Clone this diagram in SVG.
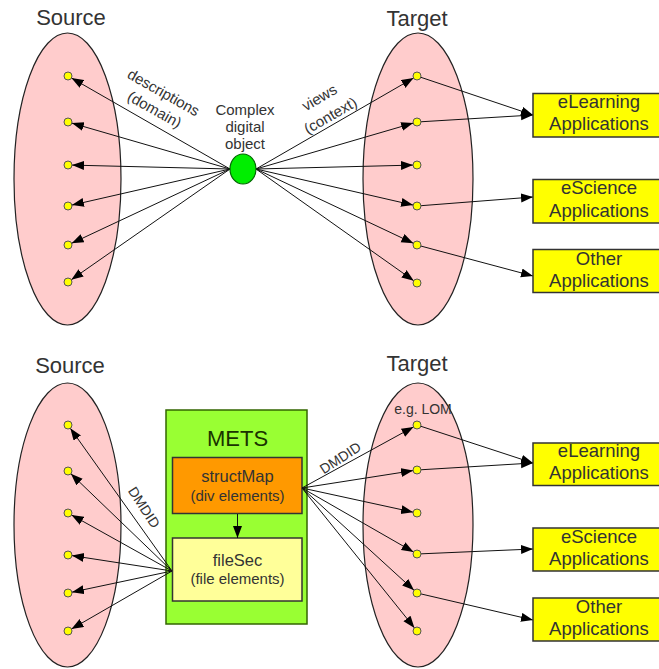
<svg xmlns="http://www.w3.org/2000/svg" width="659" height="669" viewBox="0 0 659 669">
<defs>
<style>
text{font-family:"Liberation Sans",Arial,sans-serif;fill:#333;text-anchor:middle;stroke:none}
.set{fill:#ffcccc;stroke:#222;stroke-width:1.2}
.dot{fill:#ffff00;stroke:#555;stroke-width:1}
.app rect{fill:#ffff00;stroke:#333;stroke-width:1.5}
.title{font-size:22px}
.lbl{font-size:15px}
.app text{font-size:18.5px}
#connectors line{stroke:#111;stroke-width:1}
.ad{marker-end:url(#ahDot)}
.ab{marker-end:url(#ahBox)}
</style>
<marker id="ahDot" markerUnits="userSpaceOnUse" markerWidth="20" markerHeight="10" refX="16" refY="4.5" orient="auto"><path d="M0,0 L12,4.5 L0,9 z" fill="#000"/></marker>
<marker id="ahBox" markerUnits="userSpaceOnUse" markerWidth="14" markerHeight="10" refX="12" refY="4.5" orient="auto"><path d="M0,0 L12,4.5 L0,9 z" fill="#000"/></marker>
</defs>
<rect width="659" height="669" fill="#fff"/>

<!-- titles -->
<text class="title" x="71" y="25">Source</text>
<text class="title" x="417" y="26">Target</text>
<text class="title" x="70" y="373">Source</text>
<text class="title" x="417" y="371">Target</text>

<!-- sets (ellipses) -->
<g id="source-top"><ellipse class="set" cx="67.5" cy="179" rx="53.5" ry="146"/></g>
<g id="target-top"><ellipse class="set" cx="418" cy="179" rx="55" ry="146"/></g>
<g id="source-bottom"><ellipse class="set" cx="67.5" cy="525" rx="53.5" ry="142"/></g>
<g id="target-bottom"><ellipse class="set" cx="418" cy="525" rx="55" ry="142"/>
<text x="423" y="414" style="font-size:14px">e.g. LOM</text></g>

<!-- METS container -->
<g id="mets">
<rect x="166" y="410" width="141" height="214" fill="#99ff33" stroke="#336600" stroke-width="1.5"/>
<text x="237.5" y="446" style="font-size:22px;fill:#1a3300">METS</text>
</g>
<g id="structMap">
<rect x="172.5" y="457.5" width="129.5" height="56" fill="#ff9900" stroke="#333" stroke-width="1.5"/>
<text x="237.5" y="482" style="font-size:16.5px">structMap</text>
<text x="237.5" y="501" style="font-size:15px">(div elements)</text>
</g>
<g id="fileSec">
<rect x="172.5" y="538" width="129.5" height="63" fill="#ffff99" stroke="#333" stroke-width="1.5"/>
<text x="237.5" y="566" style="font-size:16.5px">fileSec</text>
<text x="237.5" y="584" style="font-size:15px">(file elements)</text>
</g>

<!-- connectors -->
<g id="connectors">
<line class="ad" x1="230" y1="169" x2="68" y2="76"/>
<line class="ad" x1="230" y1="169" x2="68" y2="122"/>
<line class="ad" x1="230" y1="169" x2="68" y2="165"/>
<line class="ad" x1="230" y1="169" x2="68" y2="206"/>
<line class="ad" x1="230" y1="169" x2="68" y2="245"/>
<line class="ad" x1="230" y1="169" x2="68" y2="282"/>
<line class="ad" x1="256" y1="169" x2="417" y2="76"/>
<line class="ad" x1="256" y1="169" x2="417" y2="122"/>
<line class="ad" x1="256" y1="169" x2="417" y2="165"/>
<line class="ad" x1="256" y1="169" x2="417" y2="206"/>
<line class="ad" x1="256" y1="169" x2="417" y2="245"/>
<line class="ad" x1="256" y1="169" x2="417" y2="283"/>
<line class="ab" x1="417" y1="76" x2="533" y2="115"/>
<line class="ab" x1="417" y1="122" x2="533" y2="115"/>
<line class="ab" x1="417" y1="206" x2="533" y2="197"/>
<line class="ab" x1="417" y1="245" x2="533" y2="276"/>
<line class="ad" x1="172" y1="571" x2="68" y2="425"/>
<line class="ad" x1="172" y1="571" x2="68" y2="471"/>
<line class="ad" x1="172" y1="571" x2="68" y2="513"/>
<line class="ad" x1="172" y1="571" x2="68" y2="555"/>
<line class="ad" x1="172" y1="571" x2="68" y2="593"/>
<line class="ad" x1="172" y1="571" x2="68" y2="631"/>
<line class="ad" x1="302" y1="488" x2="417" y2="425"/>
<line class="ad" x1="302" y1="488" x2="417" y2="470"/>
<line class="ad" x1="302" y1="488" x2="417" y2="513"/>
<line class="ad" x1="302" y1="488" x2="417" y2="554"/>
<line class="ad" x1="302" y1="488" x2="417" y2="593"/>
<line class="ad" x1="302" y1="488" x2="417" y2="631"/>
<line class="ab" x1="417" y1="425" x2="533" y2="463"/>
<line class="ab" x1="417" y1="470" x2="533" y2="463"/>
<line class="ab" x1="417" y1="554" x2="533" y2="549"/>
<line class="ab" x1="417" y1="593" x2="533" y2="620"/>
<line class="ab" x1="237.5" y1="514" x2="237.5" y2="538"/>
<text class="lbl" transform="translate(161,97) rotate(29.5)">descriptions</text>
<text class="lbl" transform="translate(152,114) rotate(29.5)">(domain)</text>
<text class="lbl" transform="translate(322,102) rotate(-30)">views</text>
<text class="lbl" transform="translate(333,120) rotate(-30)">(context)</text>
<text style="font-size:14px" transform="translate(140,510) rotate(57)">DMDID</text>
<text style="font-size:14px" transform="translate(343,462) rotate(-33)">DMDID</text>
</g>

<!-- complex digital object -->
<g id="object">
<ellipse cx="243" cy="169" rx="13" ry="15" fill="#00ee00" stroke="#006600" stroke-width="1.2"/>
<text class="lbl" x="245" y="115">Complex</text>
<text class="lbl" x="245" y="132">digital</text>
<text class="lbl" x="245" y="149">object</text>
</g>

<!-- dots -->
<g id="src-top-dots">
<circle class="dot" cx="68" cy="76" r="4"/><circle class="dot" cx="68" cy="122" r="4"/><circle class="dot" cx="68" cy="165" r="4"/><circle class="dot" cx="68" cy="206" r="4"/><circle class="dot" cx="68" cy="245" r="4"/><circle class="dot" cx="68" cy="282" r="4"/>
</g>
<g id="tgt-top-dots">
<circle class="dot" cx="417" cy="76" r="4"/><circle class="dot" cx="417" cy="122" r="4"/><circle class="dot" cx="417" cy="165" r="4"/><circle class="dot" cx="417" cy="206" r="4"/><circle class="dot" cx="417" cy="245" r="4"/><circle class="dot" cx="417" cy="283" r="4"/>
</g>
<g id="src-bottom-dots">
<circle class="dot" cx="68" cy="425" r="4"/><circle class="dot" cx="68" cy="471" r="4"/><circle class="dot" cx="68" cy="513" r="4"/><circle class="dot" cx="68" cy="555" r="4"/><circle class="dot" cx="68" cy="593" r="4"/><circle class="dot" cx="68" cy="631" r="4"/>
</g>
<g id="tgt-bottom-dots">
<circle class="dot" cx="417" cy="425" r="4"/><circle class="dot" cx="417" cy="470" r="4"/><circle class="dot" cx="417" cy="513" r="4"/><circle class="dot" cx="417" cy="554" r="4"/><circle class="dot" cx="417" cy="593" r="4"/><circle class="dot" cx="417" cy="631" r="4"/>
</g>

<!-- application boxes -->
<g id="elearning-top" class="app"><rect x="533" y="93.5" width="130" height="43.5"/><text x="599" y="108">eLearning</text><text x="599" y="130">Applications</text></g>
<g id="escience-top" class="app"><rect x="533" y="179.5" width="130" height="43.5"/><text x="599" y="194">eScience</text><text x="599" y="217">Applications</text></g>
<g id="other-top" class="app"><rect x="533" y="249.5" width="130" height="43"/><text x="599" y="265">Other</text><text x="599" y="287">Applications</text></g>
<g id="elearning-bottom" class="app"><rect x="533" y="443" width="130" height="42.5"/><text x="599" y="457">eLearning</text><text x="599" y="479">Applications</text></g>
<g id="escience-bottom" class="app"><rect x="533" y="528" width="130" height="43"/><text x="599" y="543">eScience</text><text x="599" y="565">Applications</text></g>
<g id="other-bottom" class="app"><rect x="533" y="598" width="130" height="43"/><text x="599" y="613">Other</text><text x="599" y="635">Applications</text></g>
</svg>
